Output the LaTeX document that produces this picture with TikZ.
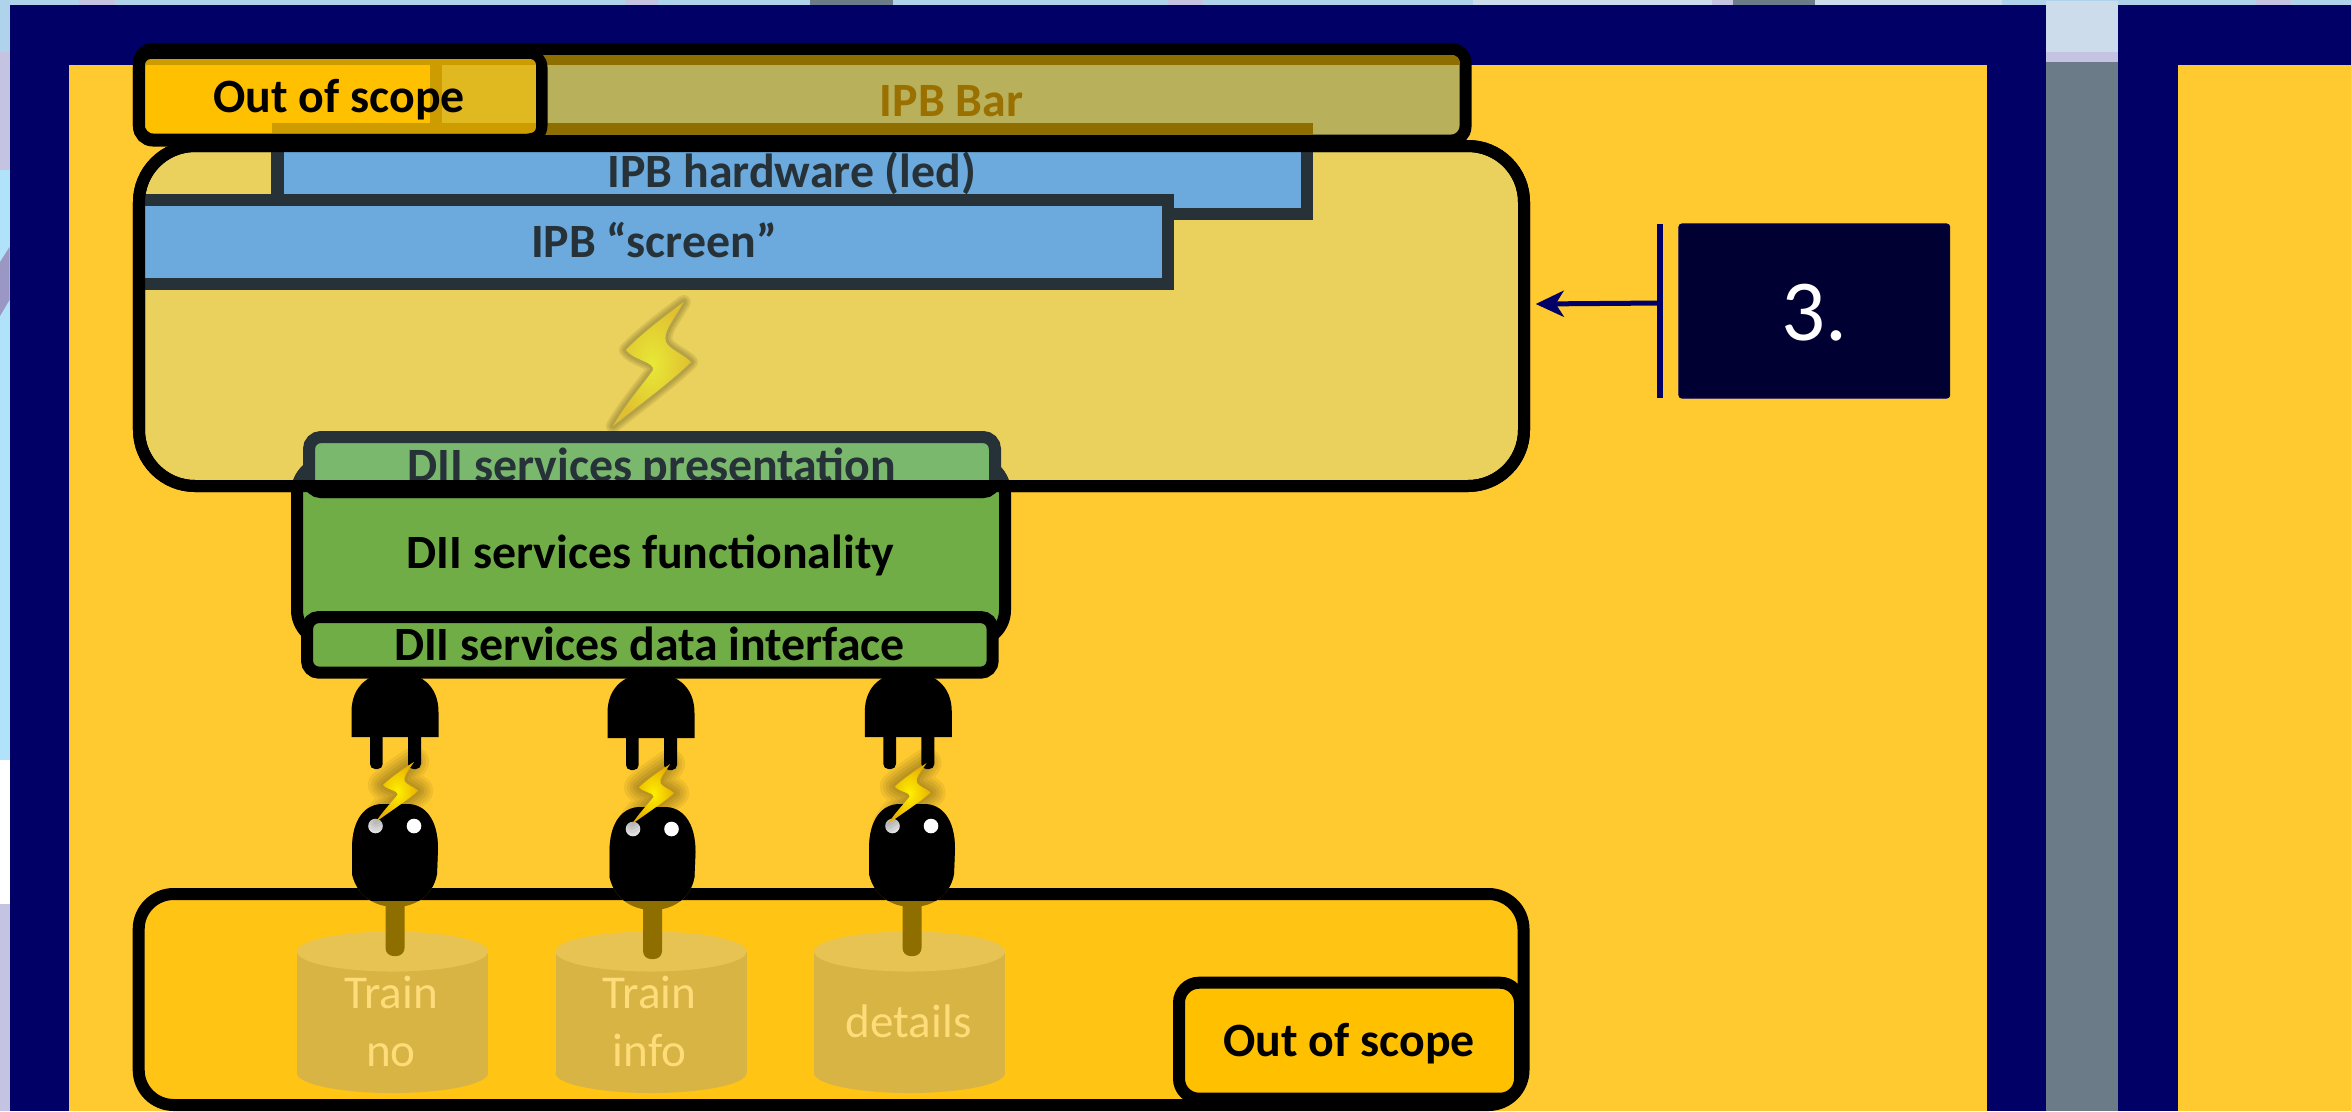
\documentclass[tikz,border=0pt]{standalone}
\usepackage{fontspec}
\setmainfont{Carlito}
\usetikzlibrary{arrows.meta}
\definecolor{navyf}{HTML}{000066}
\definecolor{yel}{HTML}{FFCA30}
\definecolor{slate}{HTML}{263238}
\definecolor{bluef}{HTML}{6CA9DC}
\definecolor{appf}{HTML}{EAD05C}
\definecolor{barf}{HTML}{B8B05A}
\definecolor{brown}{HTML}{8F6E00}
\definecolor{oos}{HTML}{FFC000}
\definecolor{oosd}{HTML}{CC9C00}
\definecolor{oosl}{HTML}{E0B820}
\definecolor{grn}{HTML}{70AD47}
\definecolor{grnl}{HTML}{7AB86E}
\definecolor{dbf}{HTML}{FFC414}
\definecolor{cylb}{HTML}{D8B444}
\definecolor{cylt}{HTML}{E6C353}
\definecolor{cyltx}{HTML}{FFDC7A}
\definecolor{skyA}{HTML}{AED3EA}
\definecolor{skyB}{HTML}{B0E3FA}
\definecolor{skyC}{HTML}{CCDCEA}
\definecolor{lav}{HTML}{C5C3E2}
\definecolor{lavd}{HTML}{9A97C5}
\definecolor{grayf}{HTML}{6B7C88}
\definecolor{numf}{HTML}{000033}
\definecolor{boltin}{HTML}{E8E836}
\definecolor{boltout}{HTML}{E0C030}
\definecolor{sboltin}{HTML}{FFF000}
\definecolor{sboltout}{HTML}{E8B000}
\tikzset{
 x=0.01cm,y=-0.01cm,
 frm/.style={draw,line width=0.12cm,inner sep=0pt,outer sep=0pt,rectangle},
 blackbox/.style={frm,draw=black},
 slatebox/.style={frm,draw=slate},
 tb/.style={anchor=base,inner sep=0pt,font=\fontsize{13.6}{16}\selectfont\bfseries},
 tc/.style={anchor=base,inner sep=0pt,font=\fontsize{13.4}{16}\selectfont,text=cyltx},
}
\newcommand\pxbox[6]{\node[#6,minimum width={(#4-#2)*0.01cm},minimum height={(#5-#3)*0.01cm}] (#1) at ({(#2+#4)/2},{(#3+#5)/2}) {};}
\newcommand\boltshape{(70.7,0) .. controls (58,22) and (50,30) .. (53,40) .. controls (56,47) and (70,52) .. (78,60) .. controls (60,78) and (30,100) .. (0,124) .. controls (14,100) and (32,80) .. (40,68) .. controls (42,60) and (20,58) .. (13,48) .. controls (30,30) and (55,12) .. (70.7,0) -- cycle}
\newcommand\bolt[8]{%
 \begin{scope}[shift={(#1,#2)},xscale=#3,yscale=#4,line join=round]
  \foreach \w in {#8}{
   \path[draw=black,draw opacity=#5,line width=\w cm] \boltshape;}
  \shade[inner color=#6,outer color=#7] \boltshape;
 \end{scope}}
\newcommand\plugshape[2]{%
 \fill[black] ({#1-43.5},{#2+737}) -- ({#1-43.5},{#2+712}) .. controls ({#1-43.5},{#2+685}) and ({#1-25},{#2+672}) .. ({#1},{#2+672}) .. controls ({#1+25},{#2+672}) and ({#1+43.5},{#2+685}) .. ({#1+43.5},{#2+712}) -- ({#1+43.5},{#2+737}) -- cycle;
 \fill[black,rounded corners=0.05cm] ({#1-25},{#2+730}) rectangle ({#1-12.3},{#2+769});
 \fill[black,rounded corners=0.05cm] ({#1+13},{#2+730}) rectangle ({#1+26},{#2+769});}
\newcommand\sockpath[2]{({#1-43},{#2+45}) .. controls ({#1-43},{#2+15}) and ({#1-30},{#2}) .. ({#1-12},{#2}) -- ({#1+12},{#2}) .. controls ({#1+30},{#2}) and ({#1+43},{#2+15}) .. ({#1+43},{#2+45}) -- ({#1+42},{#2+70}) .. controls ({#1+38},{#2+92}) and ({#1+20},{#2+103}) .. ({#1},{#2+103}) .. controls ({#1-20},{#2+103}) and ({#1-38},{#2+92}) .. ({#1-43},{#2+70}) -- cycle}
\newcommand\sock[2]{%
 \fill[brown] \sockpath{#1}{#2};
 \fill[brown,rounded corners=0.08cm] ({#1-9.5},{#2+80}) rectangle ({#1+9.5},{#2+152});
 \begin{scope}\clip (0,0) rectangle (2351,900);\fill[black] \sockpath{#1}{#2};\end{scope}
 \fill[white] ({#1-19.5},{#2+22}) circle[radius=0.073cm];
 \fill[white] ({#1+19},{#2+22}) circle[radius=0.073cm];}
\newcommand\cyl[1]{%
 \fill[cylb] ({#1-95.5},952) rectangle ({#1+95.5},1073);
 \fill[cylb] ({#1},1073) ellipse[x radius=0.955cm,y radius=0.2cm];
 \fill[cylt] ({#1},951.5) ellipse[x radius=0.955cm,y radius=0.2cm];}
\begin{document}
\begin{tikzpicture}
\useasboundingbox (0,0) rectangle (2351,1111);
% background
\fill[skyB] (0,0) rectangle (2351,1111);
\fill[skyA] (0,0) rectangle (2351,52);
\fill[lav] (0,52) rectangle (9.5,170);
\fill[lavd] (9.5,247) -- (0,262) -- (0,316) -- (9.5,300) -- cycle;
\fill[white] (0,760) rectangle (9.5,904);
\fill[lav] (0,904) rectangle (9.5,1111);
\fill[lav] (79,0) rectangle (115,6);
\fill[lav] (625,0) rectangle (658,6);
\fill[grayf] (810,0) rectangle (893,6);
\fill[lav] (1168,0) rectangle (1203,6);
\fill[skyC] (1473,0) rectangle (2002,6);
\fill[lav] (1712,0) rectangle (1733,6);
\fill[grayf] (1733,0) rectangle (1815,6);
\fill[lav] (2256,0) rectangle (2291,6);
\fill[skyC] (2046,1) rectangle (2118,52);
\fill[lav] (2046,52) rectangle (2118,62);
\fill[grayf] (2046,62) rectangle (2118,1111);
% frames
\fill[navyf] (9.5,5.3) rectangle (2046,1111);
\fill[navyf] (2118,5.3) rectangle (2351,1111);
\fill[yel] (69,65) rectangle (1986.5,1111);
\fill[yel] (2177.6,65) rectangle (2351,1111);
% application box
\pxbox{app}{139}{146}{1524}{486}{blackbox,fill=appf,rounded corners=0.56cm}
\pxbox{hw}{277.5}{129}{1307}{214}{slatebox,fill=bluef}
\node[tb,text=slate] (hwt) at (792,187.7) {IPB hardware (led)};
\pxbox{scr}{139}{199.5}{1168}{284}{slatebox,fill=bluef}
\node[tb,text=slate] (scrt) at (654,257) {IPB “screen”};
\bolt{613}{302}{1}{1}{0.08}{boltin}{boltout}{0.14,0.1,0.06}
% functionality
\pxbox{fn}{297}{461}{1005}{642}{blackbox,fill=grn,rounded corners=0.32cm}
\begin{scope}\clip (0,0) rectangle (2351,480);
 \draw[slatebox,rounded corners=0.32cm] (fn.north west) rectangle (fn.south east);
\end{scope}
\node[tb] (fnt) at (650.5,568) {DII services functionality};
% presentation
\pxbox{pr}{309}{437}{995}{492}{slatebox,fill=grnl,rounded corners=0.12cm}
\begin{scope}\clip (0,0) rectangle (2351,480);
 \node[tb,text=slate] (prt) at (652,481) {DII services presentation};
\end{scope}
\begin{scope}\clip (0,480) rectangle (2351,520);
 \draw[blackbox,rounded corners=0.12cm] (pr.north west) rectangle (pr.south east);
\end{scope}
% application outline on top
\draw[blackbox,rounded corners=0.56cm] (app.north west) rectangle (app.south east);
% IPB bar
\pxbox{bar}{139}{49}{1465.5}{140.5}{blackbox,fill=barf,rounded corners=0.14cm}
\begin{scope}
 \clip[rounded corners=0.08cm] (145,55) rectangle (1460,134.7);
 \fill[brown] (145,55) rectangle (1460,65);
 \fill[brown] (145,123) rectangle (1313,134.7);
\end{scope}
\node[tb,text=brown!90!orange] (bart) at (951.5,116) {IPB Bar};
% out of scope, top
\pxbox{oa}{139}{53.5}{541.5}{139.5}{blackbox,fill=oos,rounded corners=0.14cm}
\begin{scope}
 \clip[rounded corners=0.06cm] (145,59) rectangle (536,133);
 \fill[oosd] (145,59) rectangle (536,65);
 \fill[oosd] (430,65) rectangle (442,123);
 \fill[oosl] (442,65) rectangle (536,123);
 \fill[oosd] (272,123) rectangle (536,133);
\end{scope}
\node[tb] (oat) at (339,112.7) {Out of scope};
% data store box
\pxbox{db}{138.7}{894}{1523.5}{1105}{blackbox,fill=dbf,rounded corners=0.35cm}
\cyl{392.5}
\cyl{651}
\cyl{909.5}
\node[tc] (c1a) at (391,1008) {Train};
\node[tc] (c1b) at (391,1066) {no};
\node[tc] (c2a) at (649.7,1008) {Train};
\node[tc] (c2b) at (649.7,1066) {info};
\node[tc] (c3a) at (908.6,1037) {details};
\sock{395}{804}
\sock{652.5}{807}
\sock{912}{804}
\plugshape{395}{0}
\plugshape{651}{1}
\plugshape{908.3}{0}
\bolt{376}{761.7}{0.54}{0.484}{0.06}{sboltin}{sboltout}{0.3,0.24,0.18,0.12,0.06}
\bolt{632}{764}{0.54}{0.484}{0.06}{sboltin}{sboltout}{0.3,0.24,0.18,0.12,0.06}
\bolt{887.7}{763}{0.55}{0.492}{0.06}{sboltin}{sboltout}{0.3,0.24,0.18,0.12,0.06}
% data interface
\pxbox{di}{307}{617}{992.7}{672.7}{blackbox,fill=grn,rounded corners=0.12cm}
\node[tb] (dit) at (649.5,660) {DII services data interface};
% out of scope, bottom
\pxbox{ob}{1179}{982.7}{1520}{1098.7}{blackbox,fill=oos,rounded corners=0.2cm}
\node[tb] (obt) at (1349,1056.7) {Out of scope};
% label 3
\node[rectangle,fill=navyf,inner sep=0pt,outer sep=0pt,minimum width=0.062cm,minimum height=1.74cm] (numbar) at (1659.6,311) {};
\node[rectangle,fill=numf,draw=navyf,line width=0.01cm,rounded corners=0.03cm,inner sep=0pt,outer sep=0pt,minimum width=2.706cm,minimum height=1.74cm] (num) at (1814.3,311) {};
\node[anchor=base,inner sep=0pt,text=white,font=\fontsize{24.7}{28}\selectfont] (numt) at (1814,340) {3.};
\coordinate (arrowstart) at (1660,303);
\coordinate (arrowtip) at (1535.7,304);
\draw[navyf,line width=0.05cm,-{Stealth[length=0.28cm,width=0.26cm,inset=0.08cm]}] (arrowstart) -- (arrowtip);
\end{tikzpicture}
\end{document}
